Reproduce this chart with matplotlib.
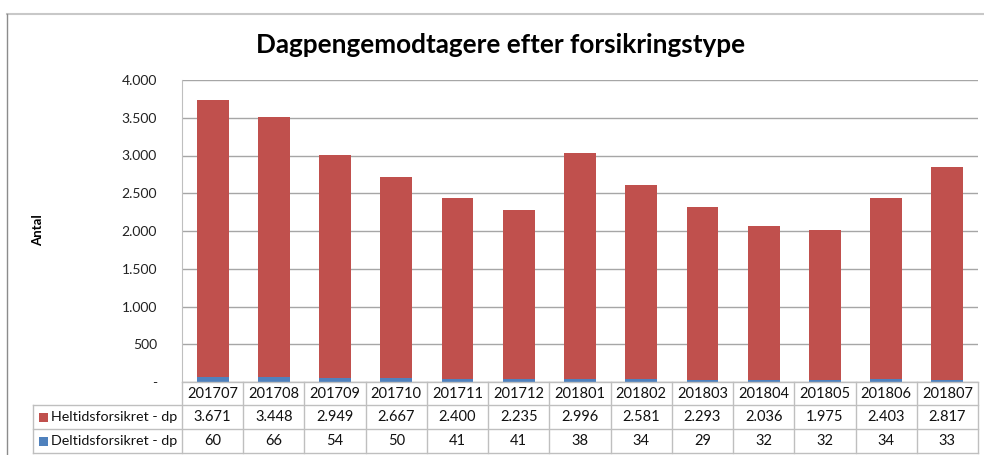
import matplotlib.pyplot as plt
from matplotlib.lines import Line2D
from matplotlib.patches import Rectangle
from matplotlib.ticker import FuncFormatter
from matplotlib.transforms import blended_transform_factory

plt.rcParams["font.family"] = ["Lato", "DejaVu Sans"]

months = ["201707", "201708", "201709", "201710", "201711", "201712", "201801",
          "201802", "201803", "201804", "201805", "201806", "201807"]
heltid = [3671, 3448, 2949, 2667, 2400, 2235, 2996, 2581, 2293, 2036, 1975, 2403, 2817]
deltid = [60, 66, 54, 50, 41, 41, 38, 34, 29, 32, 32, 34, 33]
series_names = ["Heltidsforsikret - dp", "Deltidsforsikret - dp"]
y_ticks = [0, 500, 1000, 1500, 2000, 2500, 3000, 3500, 4000]

red = "#C0504D"
blue = "#4F81BD"
grid_col = "#A6A6A6"
table_col = "#BFBFBF"

W, H = 984, 455
fig = plt.figure(figsize=(W / 100, H / 100), dpi=100)


def fx(px):
    return px / W


def fy(py):
    return 1 - py / H


# plot area in pixel coords
left, right, top, bottom = 182, 978, 80, 382
ax = fig.add_axes([fx(left), fy(bottom), fx(right - left), fy(top) - fy(bottom)])

x = list(range(len(months)))
ax.bar(x, deltid, width=0.52, color=blue, zorder=3)
ax.bar(x, heltid, width=0.52, bottom=deltid, color=red, zorder=3)

ax.set_xlim(-0.5, len(months) - 0.5)
ax.set_ylim(0, 4000)
ax.set_yticks(y_ticks)


def fmt(v, pos):
    if v == 0:
        return "-"
    return f"{int(v):,}".replace(",", ".")


ax.yaxis.set_major_formatter(FuncFormatter(fmt))
ax.tick_params(axis="y", length=0, pad=18, labelsize=10, labelcolor="#222222")
ax.tick_params(axis="x", length=0, labelbottom=False)
ax.grid(axis="y", color=grid_col, linewidth=1, zorder=0)
for s in ["top", "right", "bottom"]:
    ax.spines[s].set_visible(False)
ax.spines["left"].set_color(table_col)

# data table below the axis
row_tops = [382, 405, 429, 453]
trans = blended_transform_factory(ax.transData, fig.transFigure)
label_left = 33

lines = [
    ((fx(left), fx(right)), (fy(row_tops[0]),) * 2),
]
for r in row_tops[1:]:
    lines.append(((fx(label_left), fx(right)), (fy(r),) * 2))
lines.append(((fx(label_left),) * 2, (fy(row_tops[1]), fy(row_tops[3]))))
for i in range(len(months) + 1):
    xe = fx(left + (right - left) * i / len(months))
    lines.append(((xe, xe), (fy(row_tops[0]), fy(row_tops[3]))))
for xs, ys in lines:
    fig.add_artist(Line2D(xs, ys, color=table_col, linewidth=1))

rows = [months, [fmt(v, 0) for v in heltid], [fmt(v, 0) for v in deltid]]
for r, vals in enumerate(rows):
    yc = fy((row_tops[r] + row_tops[r + 1]) / 2)
    for i, v in enumerate(vals):
        fig.text(i, yc, v, transform=trans, ha="center", va="center",
                 fontsize=10.5, color="#111111")

for r, (name, col) in enumerate(zip(series_names, [red, blue]), start=1):
    yc = (row_tops[r] + row_tops[r + 1]) / 2
    fig.add_artist(Rectangle((fx(39), fy(yc + 4.5)), fx(9), fy(yc - 4.5) - fy(yc + 4.5),
                             facecolor=col, edgecolor="none"))
    fig.text(fx(51), fy(yc), name, ha="left", va="center", fontsize=10.3, color="#111111")

# outer chart frame
fig.add_artist(Line2D((fx(7), 1), (fy(14), fy(14)), color="#C8C8C8", linewidth=1.5))
fig.add_artist(Line2D((fx(7), fx(7)), (fy(14), 0), color="#8C8C8C", linewidth=1))

fig.text(fx(501), fy(45), "Dagpengemodtagere efter forsikringstype", ha="center",
         va="center", fontsize=18.8, fontweight="bold", color="#000000")
fig.text(fx(38), fy(230), "Antal", rotation=90, ha="center", va="center",
         fontsize=9.5, fontweight="bold", color="#000000")

fig.savefig("out.png", dpi=100)
